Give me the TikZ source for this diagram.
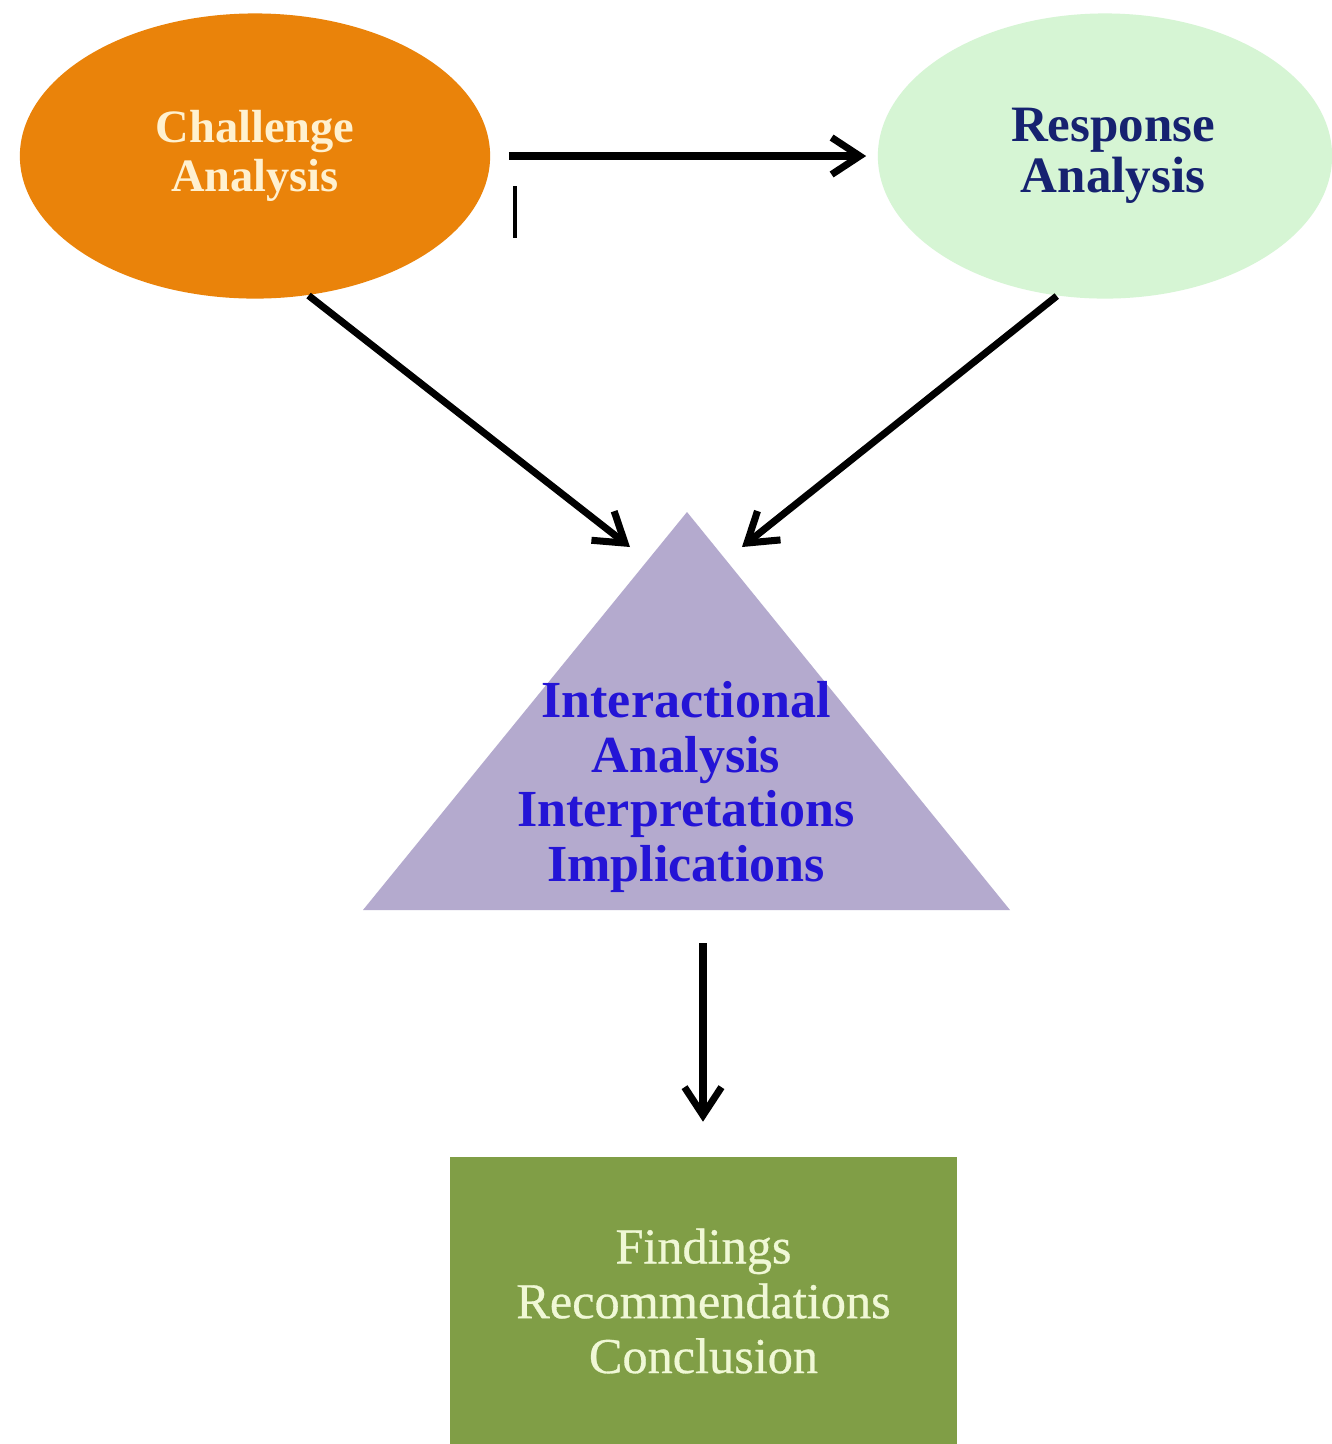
\documentclass[tikz,border=0pt]{standalone}
\usepackage{fontspec}
\setmainfont{Liberation Serif}
\newfontfamily\semibold[FakeBold=0.6]{Liberation Serif}
\usetikzlibrary{arrows.meta,shapes.geometric}
\definecolor{orangeF}{RGB}{234,131,10}
\definecolor{creamT}{RGB}{255,241,208}
\definecolor{mintF}{RGB}{214,245,212}
\definecolor{navyT}{RGB}{22,34,112}
\definecolor{lavF}{RGB}{180,170,206}
\definecolor{blueT}{RGB}{36,20,214}
\definecolor{oliveF}{RGB}{128,158,70}
\definecolor{paleT}{RGB}{240,248,214}
\begin{document}
\begin{tikzpicture}[x=0.01cm,y=-0.01cm,
  conn/.style={line width=2pt,-{Straight Barb[length=8pt,width=10.5pt]}},
  oval/.style={ellipse,inner sep=0pt,minimum height=2.85cm,align=center}]
\useasboundingbox (0,0) rectangle (1332,1444);
\fill[white] (0,0) rectangle (1332,1444);

% ovals
\node[oval,fill=orangeF,minimum width=4.70cm,text=creamT,
      font=\fontsize{13.2}{13.9}\selectfont\bfseries] (ch) at (255,156) {Challenge\\Analysis};
\node[oval,fill=mintF,minimum width=4.54cm,text=navyT,
      font=\fontsize{14.5}{14.4}\selectfont\bfseries] (ra) at (1105,156) {\hspace*{0.16cm}Response\\\hspace*{0.16cm}Analysis};

% triangle
\fill[lavF] (687,512) -- (1010,910) -- (363,910) -- cycle;
\node[align=center,text=blueT,inner sep=0pt,
      font=\fontsize{14.8}{15.6}\selectfont\bfseries] (tri) at (686,787)
  {Interactional\\Analysis\\Interpretations\\Implications};

% result box
\node[fill=oliveF,minimum width=5.07cm,minimum height=2.87cm,inner sep=0pt,
      text=paleT,align=center,font=\fontsize{14.3}{15.6}\semibold] (fr) at (703.5,1301)
  {Findings\\Recommendations\\Conclusion};

% connectors
\coordinate (tipL) at (630,547);
\coordinate (tipR) at (742,547);
\coordinate (triB) at (703,943);
\draw[conn,shorten <=0.18cm,shorten >=0.11cm] (ch.east) -- (ch.east -| ra.west);
\draw[conn] (ch.-69) -- (tipL);
\draw[conn] (ra.-109.4) -- (tipR);
\draw[conn,shorten >=0.35cm] (triB) -- (triB |- fr.north);

% stray tick
\coordinate (tkA) at (515,186);
\coordinate (tkB) at (515,238);
\draw[line width=0.9pt] (tkA) -- (tkB);
\end{tikzpicture}
\end{document}
